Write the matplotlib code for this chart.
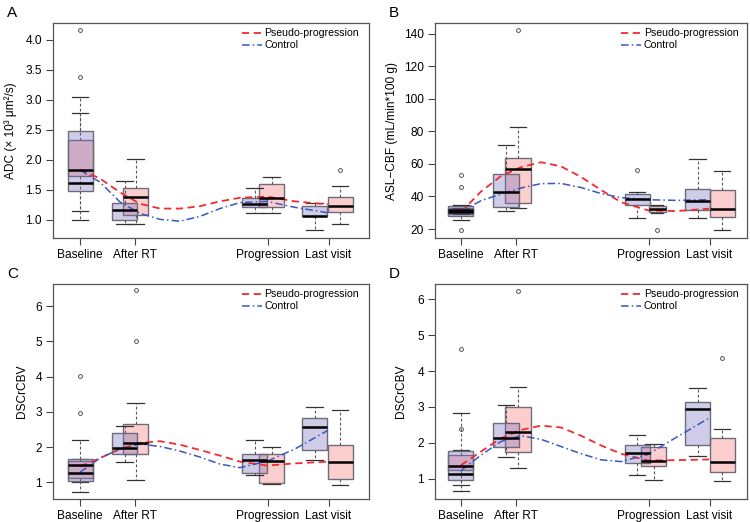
import matplotlib.pyplot as plt
from matplotlib.lines import Line2D

plt.rcParams['font.family'] = ['Liberation Sans', 'DejaVu Sans']

stages = ['Baseline', 'After RT', 'Progression', 'Last visit']
stage_x = [0, 54.5, 187.5, 248.5]

# box stats per stage: [whisker low, Q1, median, Q3, whisker high]
adc_ctrl = [[1.0, 1.48, 1.62, 2.48, 3.04], [0.94, 1.0, 1.17, 1.29, 1.65],
            [1.11, 1.22, 1.26, 1.37, 1.54], [0.83, 1.06, 1.07, 1.24, 1.29]]
adc_ctrl_out = [[3.38, 4.17], [], [], []]
adc_psp = [[1.15, 1.74, 1.84, 2.34, 2.78], [0.94, 1.09, 1.38, 1.53, 2.01],
           [1.11, 1.21, 1.36, 1.6, 1.71], [0.93, 1.13, 1.24, 1.38, 1.56]]
adc_psp_out = [[], [], [], [1.83]]

cbf_ctrl = [[25.3, 27.8, 30.2, 33.9, 34.5], [30.8, 33.7, 43, 54, 71.8],
            [27, 34.7, 38.6, 41.7, 42.7], [27, 31.9, 37, 44.8, 62.8]]
cbf_ctrl_out = [[19.2, 45.8, 53.2], [], [56], []]
cbf_psp = [[29, 29.5, 31.5, 32.8, 33.2], [32.9, 36, 56.9, 63.8, 82.7],
           [29.8, 30.4, 32.5, 34.1, 34.5], [19.2, 27.2, 32.5, 43.7, 55.6]]
cbf_psp_out = [[], [142], [19.2], []]

cbv1_ctrl = [[0.74, 1.03, 1.27, 1.66, 2.2], [1.57, 1.8, 1.98, 2.4, 2.61],
             [1.22, 1.28, 1.64, 1.8, 2.19], [1.63, 1.93, 2.56, 2.82, 3.14]]
cbv1_ctrl_out = [[2.97, 4.03], [], [], []]
cbv1_psp = [[1.0, 1.12, 1.49, 1.62, 1.66], [1.06, 1.8, 2.12, 2.67, 3.25],
            [0.96, 0.97, 1.6, 1.81, 2.0], [0.94, 1.1, 1.57, 2.06, 3.05]]
cbv1_psp_out = [[], [5.02, 6.45], [], []]

cbv2_ctrl = [[0.66, 0.96, 1.13, 1.78, 2.83], [1.62, 1.89, 2.14, 2.56, 3.05],
             [1.12, 1.44, 1.71, 1.95, 2.21], [1.63, 1.94, 2.95, 3.14, 3.52]]
cbv2_ctrl_out = [[4.62], [], [], []]
cbv2_psp = [[0.84, 1.25, 1.37, 1.65, 1.8], [1.31, 1.75, 2.3, 3.0, 3.55],
            [0.97, 1.35, 1.49, 1.89, 1.97], [0.94, 1.19, 1.47, 2.14, 2.4]]
cbv2_psp_out = [[2.38], [6.23], [], [4.35]]

# smoothed trend curves
line_x = [0, 20, 40, 60, 80, 100, 120, 140, 160, 187, 215, 248]
adc_psp_line = [1.84, 1.69, 1.46, 1.27, 1.19, 1.19, 1.23, 1.31, 1.37, 1.39, 1.31, 1.26]
adc_ctrl_line = [1.83, 1.63, 1.30, 1.11, 1.01, 0.98, 1.06, 1.19, 1.29, 1.31, 1.21, 1.12]
cbf_psp_line = [30.4, 43, 52.5, 58, 61, 58.5, 52, 44, 36.5, 31.5, 31, 32.5]
cbf_ctrl_line = [30.8, 37.4, 41.5, 45.2, 47.9, 48.0, 45.5, 41.8, 39.3, 38, 37.6, 38]
cbv1_psp_line = [1.45, 1.69, 1.95, 2.12, 2.17, 2.07, 1.92, 1.76, 1.59, 1.48, 1.54, 1.59]
cbv1_ctrl_line = [1.29, 1.69, 1.95, 2.09, 2.02, 1.89, 1.72, 1.52, 1.42, 1.6, 1.95, 2.48]
cbv2_psp_line = [1.38, 1.76, 2.13, 2.36, 2.48, 2.43, 2.2, 1.93, 1.7, 1.51, 1.52, 1.54]
cbv2_ctrl_line = [1.23, 1.66, 2.04, 2.2, 2.1, 1.9, 1.7, 1.53, 1.48, 1.68, 2.15, 2.69]

panels = [
    ('A', 'ADC (× 10³ μm²/s)', adc_ctrl, adc_ctrl_out, adc_psp, adc_psp_out,
     adc_ctrl_line, adc_psp_line),
    ('B', 'ASL−CBF (mL/min*100 g)', cbf_ctrl, cbf_ctrl_out, cbf_psp, cbf_psp_out,
     cbf_ctrl_line, cbf_psp_line),
    ('C', 'DSCrCBV', cbv1_ctrl, cbv1_ctrl_out, cbv1_psp, cbv1_psp_out,
     cbv1_ctrl_line, cbv1_psp_line),
    ('D', 'DSCrCBV', cbv2_ctrl, cbv2_ctrl_out, cbv2_psp, cbv2_psp_out,
     cbv2_ctrl_line, cbv2_psp_line),
]

# layout per panel: axes rect (px), xlim, ylim, yticks, box positions, label x
W, H = 750, 522
rects = [(53, 23, 316, 215), (435, 23, 312, 215), (53, 284, 316, 215), (435, 284, 312, 215)]
xlims = [(-27, 289), (-26, 286), (-27, 289), (-26, 286)]
ylims = [(0.7, 4.28), (14.5, 146.5), (0.53, 6.63), (0.44, 6.42)]
yticks = [[1.0, 1.5, 2.0, 2.5, 3.0, 3.5, 4.0], [20, 40, 60, 80, 100, 120, 140],
          [1, 2, 3, 4, 5, 6], [1, 2, 3, 4, 5, 6]]
yfmt = ['%.1f', '%d', '%d', '%d']
ctrl_pos = [[0, 44.5, 174.5, 234.5], [0, 45, 176, 236.5], [0, 44.5, 174.5, 234.5], [0, 45, 176, 236.5]]
psp_pos = [[0, 55.5, 191.5, 260], [0, 57, 196, 261], [0, 55.5, 191.5, 260], [0, 57, 192.5, 261]]
psp_w = [[25] * 4, [25, 25, 17, 25], [25] * 4, [25] * 4]
ylab_x = [-0.114, -0.119, -0.079, -0.09]

red = '#f52a2e'
blue = '#3a57bd'
ctrl_face = (0.47, 0.43, 0.75, 0.35)
psp_face = (0.98, 0.3, 0.3, 0.27)

fig = plt.figure(figsize=(7.5, 5.22), dpi=100)

for i, (letter, ylab, cst, cout, pst, pout, cline, pline) in enumerate(panels):
    x0, y0, w, h = rects[i]
    ax = fig.add_axes([x0 / W, 1 - (y0 + h) / H, w / W, h / H])

    # pseudo-progression boxes first, control boxes drawn over them
    for stats, outs, pos, widths, face in [(pst, pout, psp_pos[i], psp_w[i], psp_face),
                                           (cst, cout, ctrl_pos[i], [25] * 4, ctrl_face)]:
        bx = []
        for s, o in zip(stats, outs):
            bx.append(dict(whislo=s[0], q1=s[1], med=s[2], q3=s[3], whishi=s[4], fliers=o))
        ax.bxp(bx, positions=pos, widths=widths, capwidths=[0.65 * wd for wd in widths],
               patch_artist=True, manage_ticks=False,
               boxprops=dict(facecolor=face, edgecolor='#6c6c7c', linewidth=1.0),
               medianprops=dict(color='black', linewidth=1.8),
               whiskerprops=dict(color='#555555', linewidth=0.8, linestyle=(0, (2.5, 2))),
               capprops=dict(color='#333333', linewidth=0.9),
               flierprops=dict(marker='o', markersize=2.8, markerfacecolor='none',
                               markeredgecolor='#555555', markeredgewidth=0.7))

    ax.plot(line_x, pline, color=red, linestyle=(0, (4, 2.5)), linewidth=1.3)
    ax.plot(line_x, cline, color=blue, linestyle=(0, (5, 2, 1, 2)), linewidth=1.1)

    ax.set_xlim(*xlims[i])
    ax.set_ylim(*ylims[i])
    ax.set_xticks(stage_x)
    ax.set_xticklabels(stages)
    ax.set_yticks(yticks[i])
    ax.set_yticklabels([yfmt[i] % v for v in yticks[i]])
    ax.tick_params(labelsize=8.6, length=5, width=0.8, color='#444444', pad=3)
    for sp in ax.spines.values():
        sp.set_color('#555555')
        sp.set_linewidth(0.9)
    ax.set_ylabel(ylab, fontsize=8.6)
    ax.yaxis.set_label_coords(ylab_x[i], 0.5)

    handles = [Line2D([], [], color=red, linestyle=(0, (4, 2.5)), linewidth=1.3),
               Line2D([], [], color=blue, linestyle=(0, (5, 2, 1, 2)), linewidth=1.1)]
    ax.legend(handles, ['Pseudo-progression', 'Control'], loc='upper left',
              bbox_to_anchor=(0.59, 0.985), frameon=False, fontsize=7.6,
              handlelength=1.9, handletextpad=0.25, labelspacing=0.2,
              borderaxespad=0, borderpad=0.2)

    fig.text((x0 - 46) / W, 1 - (y0 - 6) / H, letter, fontsize=11, va='baseline')

fig.savefig('out.png', dpi=100)
